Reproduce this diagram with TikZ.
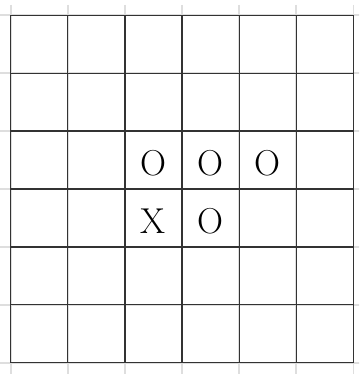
\documentclass[tikz,border=0pt]{standalone}
\begin{document}
\begin{tikzpicture}[x=1pt,y=-1pt,
  guide/.style={draw=black!13,line width=1.6pt},
  gridline/.style={draw=black!80,line width=1.2pt},
  piece/.style={font=\fontsize{36}{36}\selectfont,inner sep=0pt,text=black}]
\useasboundingbox (0,0) rectangle (359,374);
\begin{scope}
\clip (0,0) rectangle (359,374);
\foreach \i in {0,...,6}{
  \pgfmathsetmacro{\xx}{10.7+57.1*\i}
  \pgfmathsetmacro{\yy}{15.3+57.9*\i}
  \draw[guide] (\xx,5) -- (\xx,380);
  \draw[guide] (-5,\yy) -- (364,\yy);
}
\end{scope}
\foreach \i in {0,...,6}{
  \pgfmathsetmacro{\xx}{10.7+57.1*\i}
  \pgfmathsetmacro{\yy}{15.3+57.9*\i}
  \draw[gridline] (\xx,15.3) -- (\xx,362.7);
  \draw[gridline] (10.7,\yy) -- (353.3,\yy);
}
\node[piece] (o1) at (153.3,163) {O};
\node[piece] (o2) at (210.4,163) {O};
\node[piece] (o3) at (267.5,163) {O};
\node[piece] (x1) at (153.3,221) {X};
\node[piece] (o4) at (210.4,221) {O};
\end{tikzpicture}
\end{document}
